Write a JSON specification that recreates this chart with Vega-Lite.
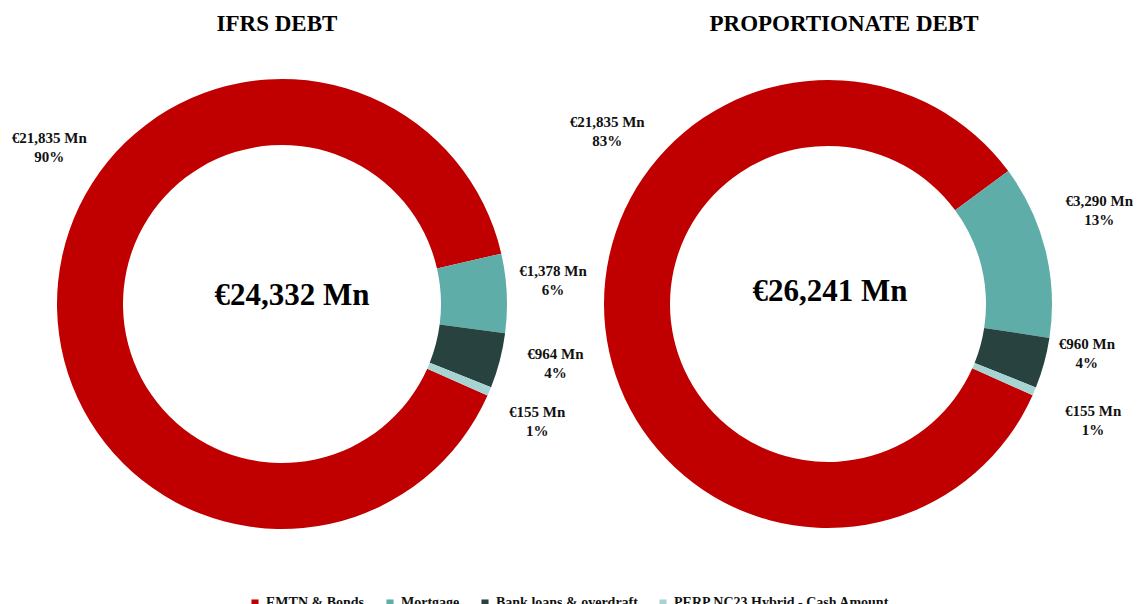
{
  "$schema": "https://vega.github.io/schema/vega-lite/v6.json",
  "background": "white",
  "padding": {"left": 4, "top": 13, "right": 0, "bottom": 0},
  "spacing": 0,
  "bounds": "flush",
  "data": {
    "values": [
      {"chart": "IFRS", "idx": 1, "category": "EMTN & Bonds", "value": 21835, "label": "€21,835 Mn\n90%"},
      {"chart": "IFRS", "idx": 2, "category": "Mortgage", "value": 1378, "label": "€1,378 Mn\n6%"},
      {"chart": "IFRS", "idx": 3, "category": "Bank loans & overdraft", "value": 964, "label": "€964 Mn\n4%"},
      {"chart": "IFRS", "idx": 4, "category": "PERP NC23 Hybrid - Cash Amount", "value": 155, "label": "€155 Mn\n1%"},
      {"chart": "PROP", "idx": 1, "category": "EMTN & Bonds", "value": 21835, "label": "€21,835 Mn\n83%"},
      {"chart": "PROP", "idx": 2, "category": "Mortgage", "value": 3290, "label": "€3,290 Mn\n13%"},
      {"chart": "PROP", "idx": 3, "category": "Bank loans & overdraft", "value": 960, "label": "€960 Mn\n4%"},
      {"chart": "PROP", "idx": 4, "category": "PERP NC23 Hybrid - Cash Amount", "value": 155, "label": "€155 Mn\n1%"}
    ]
  },
  "hconcat": [
    {
      "width": 546,
      "height": 520,
      "title": {"text": "IFRS DEBT", "dx": -5},
      "transform": [{"filter": "datum.chart === 'IFRS'"}],
      "layer": [
        {
          "mark": {"type": "arc", "outerRadius": 225, "innerRadius": 159},
          "encoding": {
            "theta": {"field": "value", "type": "quantitative", "stack": true, "scale": {"range": [1.99, 8.273]}},
            "order": {"field": "idx", "type": "quantitative"},
            "color": {"field": "category", "type": "nominal", "title": null,
              "scale": {"domain": ["EMTN & Bonds", "Mortgage", "Bank loans & overdraft", "PERP NC23 Hybrid - Cash Amount"],
                        "range": ["#C00000", "#5FADA9", "#27423F", "#A6D4D2"]}}
          }
        },
        {
          "mark": {"type": "text", "radius": 286, "thetaOffset": 0.524, "lineBreak": "\n", "lineHeight": 19, "font": "Liberation Serif", "fontWeight": "bold", "fontSize": 15, "fill": "#111111", "align": "center", "baseline": "middle"},
          "encoding": {
            "theta": {"field": "value", "type": "quantitative", "stack": true},
            "order": {"field": "idx", "type": "quantitative"},
            "detail": {"field": "category"},
            "text": {"condition": {"test": "datum.idx !== 1", "value": ""}, "field": "label"}
          }
        },
        {
          "mark": {"type": "text", "radius": 273, "thetaOffset": -0.072, "lineBreak": "\n", "lineHeight": 19, "font": "Liberation Serif", "fontWeight": "bold", "fontSize": 15, "fill": "#111111", "align": "center", "baseline": "middle"},
          "encoding": {
            "theta": {"field": "value", "type": "quantitative", "stack": true},
            "order": {"field": "idx", "type": "quantitative"},
            "detail": {"field": "category"},
            "text": {"condition": {"test": "datum.idx !== 2", "value": ""}, "field": "label"}
          }
        },
        {
          "mark": {"type": "text", "radius": 278, "thetaOffset": -0.073, "lineBreak": "\n", "lineHeight": 19, "font": "Liberation Serif", "fontWeight": "bold", "fontSize": 15, "fill": "#111111", "align": "center", "baseline": "middle"},
          "encoding": {
            "theta": {"field": "value", "type": "quantitative", "stack": true},
            "order": {"field": "idx", "type": "quantitative"},
            "detail": {"field": "category"},
            "text": {"condition": {"test": "datum.idx !== 3", "value": ""}, "field": "label"}
          }
        },
        {
          "mark": {"type": "text", "radius": 277, "thetaOffset": 0, "lineBreak": "\n", "lineHeight": 19, "font": "Liberation Serif", "fontWeight": "bold", "fontSize": 15, "fill": "#111111", "align": "center", "baseline": "middle"},
          "encoding": {
            "theta": {"field": "value", "type": "quantitative", "stack": true},
            "order": {"field": "idx", "type": "quantitative"},
            "detail": {"field": "category"},
            "text": {"condition": {"test": "datum.idx !== 4", "value": ""}, "field": "label"}
          }
        },
        {
          "data": {"values": [{"total": "€24,332 Mn"}]},
          "transform": [],
          "mark": {"type": "text", "font": "Liberation Serif", "fontWeight": "bold", "fontSize": 31, "fill": "#000000", "dx": 10, "dy": -8, "align": "center", "baseline": "middle"},
          "encoding": {"text": {"field": "total"}}
        }
      ]
    },
    {
      "width": 546,
      "height": 520,
      "title": {"text": "PROPORTIONATE DEBT", "dx": 16},
      "transform": [{"filter": "datum.chart === 'PROP'"}],
      "layer": [
        {
          "mark": {"type": "arc", "outerRadius": 224, "innerRadius": 158},
          "encoding": {
            "theta": {"field": "value", "type": "quantitative", "stack": true, "scale": {"range": [1.99, 8.273]}},
            "order": {"field": "idx", "type": "quantitative"},
            "color": {"field": "category", "type": "nominal", "title": null,
              "scale": {"domain": ["EMTN & Bonds", "Mortgage", "Bank loans & overdraft", "PERP NC23 Hybrid - Cash Amount"],
                        "range": ["#C00000", "#5FADA9", "#27423F", "#A6D4D2"]}}
          }
        },
        {
          "mark": {"type": "text", "radius": 286, "thetaOffset": 0.797, "lineBreak": "\n", "lineHeight": 19, "font": "Liberation Serif", "fontWeight": "bold", "fontSize": 15, "fill": "#111111", "align": "center", "baseline": "middle"},
          "encoding": {
            "theta": {"field": "value", "type": "quantitative", "stack": true},
            "order": {"field": "idx", "type": "quantitative"},
            "detail": {"field": "category"},
            "text": {"condition": {"test": "datum.idx !== 1", "value": ""}, "field": "label"}
          }
        },
        {
          "mark": {"type": "text", "radius": 290, "thetaOffset": -0.12, "lineBreak": "\n", "lineHeight": 19, "font": "Liberation Serif", "fontWeight": "bold", "fontSize": 15, "fill": "#111111", "align": "center", "baseline": "middle"},
          "encoding": {
            "theta": {"field": "value", "type": "quantitative", "stack": true},
            "order": {"field": "idx", "type": "quantitative"},
            "detail": {"field": "category"},
            "text": {"condition": {"test": "datum.idx !== 2", "value": ""}, "field": "label"}
          }
        },
        {
          "mark": {"type": "text", "radius": 262, "thetaOffset": -0.112, "lineBreak": "\n", "lineHeight": 19, "font": "Liberation Serif", "fontWeight": "bold", "fontSize": 15, "fill": "#111111", "align": "center", "baseline": "middle"},
          "encoding": {
            "theta": {"field": "value", "type": "quantitative", "stack": true},
            "order": {"field": "idx", "type": "quantitative"},
            "detail": {"field": "category"},
            "text": {"condition": {"test": "datum.idx !== 3", "value": ""}, "field": "label"}
          }
        },
        {
          "mark": {"type": "text", "radius": 286, "thetaOffset": -0.016, "lineBreak": "\n", "lineHeight": 19, "font": "Liberation Serif", "fontWeight": "bold", "fontSize": 15, "fill": "#111111", "align": "center", "baseline": "middle"},
          "encoding": {
            "theta": {"field": "value", "type": "quantitative", "stack": true},
            "order": {"field": "idx", "type": "quantitative"},
            "detail": {"field": "category"},
            "text": {"condition": {"test": "datum.idx !== 4", "value": ""}, "field": "label"}
          }
        },
        {
          "data": {"values": [{"total": "€26,241 Mn"}]},
          "transform": [],
          "mark": {"type": "text", "font": "Liberation Serif", "fontWeight": "bold", "fontSize": 31, "fill": "#000000", "dx": 2, "dy": -12, "align": "center", "baseline": "middle"},
          "encoding": {"text": {"field": "total"}}
        }
      ]
    }
  ],
  "config": {
    "view": {"stroke": null},
    "title": {"font": "Liberation Serif", "fontWeight": "bold", "fontSize": 23, "color": "#000000", "anchor": "middle", "offset": 8},
    "legend": {"orient": "bottom", "offset": 17, "layout": {"bottom": {"anchor": "middle"}}, "direction": "horizontal", "symbolType": "square", "symbolSize": 50, "labelFont": "Liberation Serif", "labelFontWeight": "bold", "labelFontSize": 14, "labelColor": "#111111", "labelLimit": 0, "columnPadding": 18}
  }
}
